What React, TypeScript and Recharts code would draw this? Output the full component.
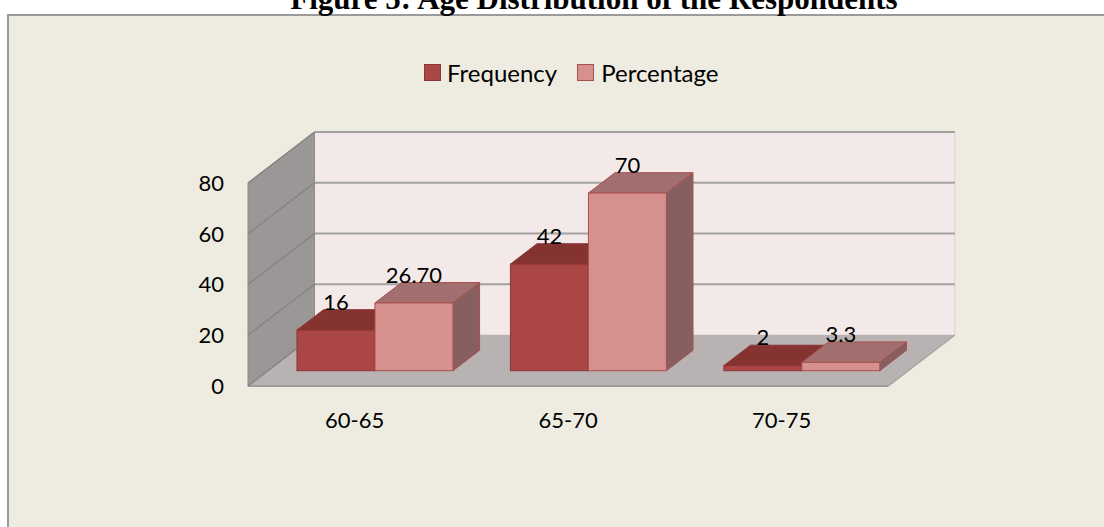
import React from 'react';
import { BarChart, Bar, XAxis, YAxis, CartesianGrid, Legend, LabelList } from 'recharts';

const categories = ['60-65', '65-70', '70-75'];
const frequency = [16, 42, 2];
const percentage = [26.7, 70, 3.3];
const frequencyLabels = ['16', '42', '2'];
const percentageLabels = ['26.70', '70', '3.3'];
const yTicks = [0, 20, 40, 60, 80];

const data = categories.map((age, i) => ({
  age,
  frequency: frequency[i],
  percentage: percentage[i],
  frequencyLabel: frequencyLabels[i],
  percentageLabel: percentageLabels[i],
}));

// depth of the floor, from front edge to back wall
const DX = 66.5;
const DY = -51;
// bars stand between these fractions of the depth
const BAR_FRONT = 0.3;
const BAR_BACK = 0.7;

const FONT = 'Lato, "Open Sans", sans-serif';

const makeBox = (front: string, top: string, side: string, edge: string) => (props: any) => {
  const { x, y, width, height } = props;
  if (width == null || height == null) return <g />;
  const fx = x + DX * BAR_FRONT;
  const fy = y + DY * BAR_FRONT;
  const ddx = DX * (BAR_BACK - BAR_FRONT);
  const ddy = DY * (BAR_BACK - BAR_FRONT);
  const right = fx + width;
  const bottom = fy + height;
  return (
    <g>
      <polygon
        points={`${right},${fy} ${right + ddx},${fy + ddy} ${right + ddx},${bottom + ddy} ${right},${bottom}`}
        fill={side}
        stroke={edge}
        strokeWidth={1}
      />
      <polygon
        points={`${fx},${fy} ${fx + ddx},${fy + ddy} ${right + ddx},${fy + ddy} ${right},${fy}`}
        fill={top}
        stroke={edge}
        strokeWidth={1}
      />
      <rect x={fx} y={fy} width={width} height={height} fill={front} stroke={edge} strokeWidth={1} />
    </g>
  );
};

const renderValue = (props: any) => {
  const vb = props.viewBox || props;
  const { x, y, width } = vb;
  if (x == null) return null;
  const cx = x + width / 2 + DX * BAR_FRONT;
  const base = y + DY * BAR_BACK;
  return (
    <text x={cx} y={base} textAnchor="middle" fontFamily={FONT} fontSize={22} fill="#000">
      {props.value}
    </text>
  );
};

// walls, floor and grid lines drawn on the back wall and the side wall
const gridLine = (props: any) => {
  const { x1, x2, y1, index, x, y, width, height } = props;
  const left = x ?? x1;
  const right = left + (width ?? x2 - x1);
  const floorY = y + height;
  const isFloor = Math.abs(y1 - floorY) < 0.5;
  return (
    <g key={`grid-${index}`}>
      {index === 0 && (
        <g>
          <rect x={left + DX} y={y + DY} width={right - left} height={height} fill="#F4E9E9" stroke="#DCD3D3" strokeWidth={1} />
          <polygon
            points={`${left},${y} ${left + DX},${y + DY} ${left + DX},${floorY + DY} ${left},${floorY}`}
            fill="#9B9797"
            stroke="#8F8B8B"
            strokeWidth={1}
          />
          <polygon
            points={`${left},${floorY} ${left + DX},${floorY + DY} ${right + DX},${floorY + DY} ${right},${floorY}`}
            fill="#B8B2B2"
          />
          <line x1={left} y1={floorY} x2={right} y2={floorY} stroke="#A19D9D" strokeWidth={2} />
          <line x1={right} y1={floorY} x2={right + DX} y2={floorY + DY} stroke="#A8A3A3" strokeWidth={1.5} />
        </g>
      )}
      {!isFloor && (
        <line x1={left + DX} y1={y1 + DY} x2={right + DX} y2={y1 + DY} stroke="#A2A0A0" strokeWidth={2} />
      )}
      <line x1={left} y1={y1} x2={left + DX} y2={y1 + DY} stroke="#878383" strokeWidth={1.5} />
    </g>
  );
};

const renderLegend = () => (
  <div style={{ display: 'flex', alignItems: 'center', fontFamily: FONT, fontSize: 24, color: '#000', whiteSpace: 'nowrap' }}>
    <span style={{ width: 15, height: 15, background: '#AA4643', border: '1px solid #8C3532', marginRight: 6 }} />
    <span style={{ marginRight: 20 }}>Frequency</span>
    <span style={{ width: 15, height: 15, background: '#D6918F', border: '1px solid #A8504D', marginRight: 7 }} />
    <span>Percentage</span>
  </div>
);

export default function App() {
  return (
    <div style={{ position: 'absolute', left: 0, top: 0, width: 1104, height: 527, overflow: 'hidden', background: '#fff' }}>
      <div
        style={{
          position: 'absolute',
          left: 7,
          top: 14,
          width: 1120,
          height: 540,
          borderLeft: '2px solid #9A9A9A',
          borderTop: '2px solid #9A9A9A',
          background: '#EEECE1',
        }}
      />
      <svg width={1104} height={30} style={{ position: 'absolute', left: 0, top: 0 }}>
        <text x={594} y={9} textAnchor="middle" fontFamily='"Liberation Serif", "Times New Roman", serif' fontWeight="bold" fontSize={31} fill="#000">
          Figure 5: Age Distribution of the Respondents
        </text>
      </svg>
      <div style={{ position: 'absolute', left: 0, top: 0 }}>
        <BarChart
          width={1104}
          height={527}
          data={data}
          margin={{ top: 183, right: 215.7, bottom: 101, left: 188 }}
          barCategoryGap="13.6%"
          barGap={0}
        >
          <CartesianGrid vertical={false} horizontal={gridLine} />
          <XAxis
            dataKey="age"
            height={40}
            axisLine={false}
            tickLine={false}
            tickSize={0}
            tickMargin={26}
            tick={{ fill: '#000', fontSize: 22, fontFamily: FONT }}
          />
          <YAxis
            width={60}
            domain={[0, 80]}
            ticks={yTicks}
            axisLine={false}
            tickLine={false}
            tickSize={0}
            tickMargin={24}
            tick={{ fill: '#000', fontSize: 22, fontFamily: FONT }}
          />
          <Legend
            verticalAlign="middle"
            align="center"
            layout="horizontal"
            wrapperStyle={{ top: 58, left: 424, width: 330, height: 26 }}
            content={renderLegend}
          />
          <Bar dataKey="frequency" name="Frequency" isAnimationActive={false} shape={makeBox('#AA4643', '#853331', '#7A2F2D', '#8C3532')}>
            <LabelList dataKey="frequencyLabel" content={renderValue} />
          </Bar>
          <Bar dataKey="percentage" name="Percentage" isAnimationActive={false} shape={makeBox('#D6918F', '#A16F6F', '#866060', '#A8504D')}>
            <LabelList dataKey="percentageLabel" content={renderValue} />
          </Bar>
        </BarChart>
      </div>
    </div>
  );
}
